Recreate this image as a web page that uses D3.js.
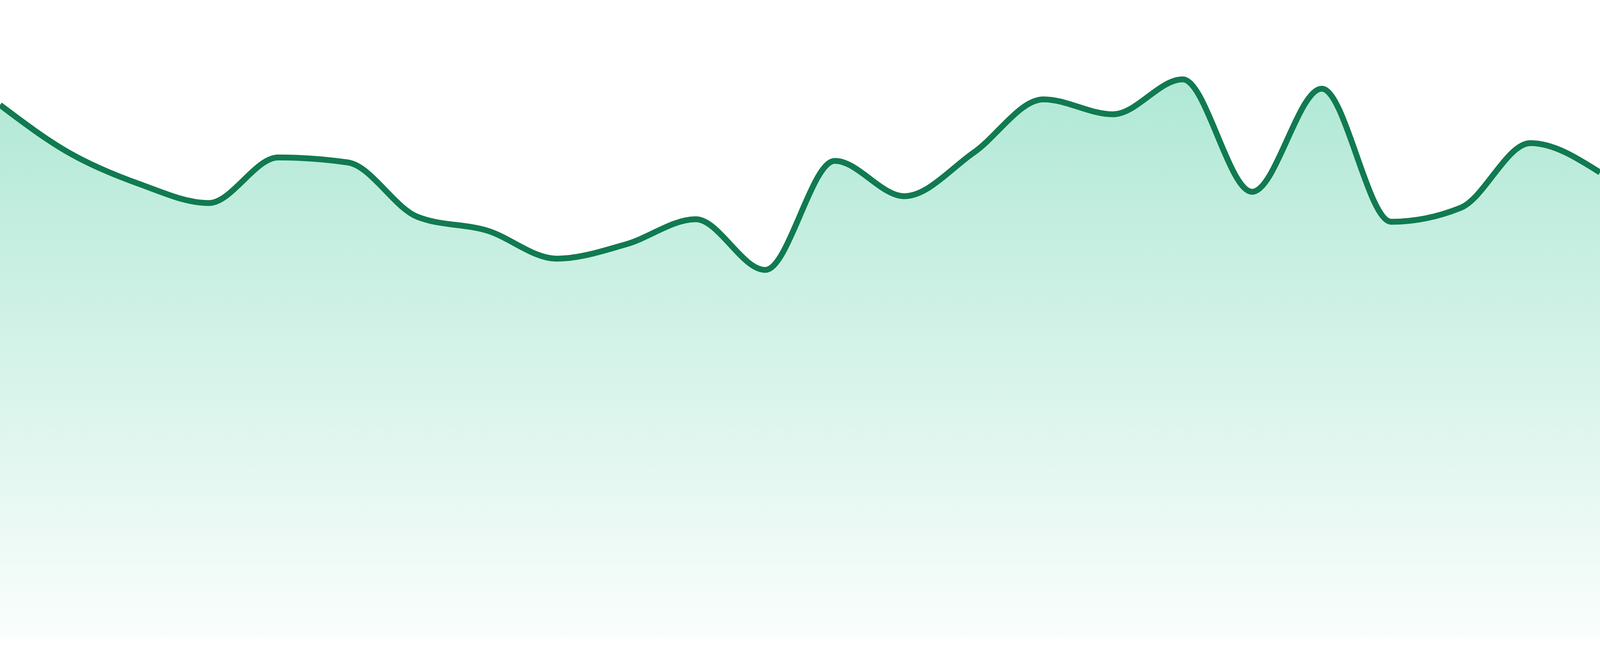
<!DOCTYPE html>
<html>
<head>
<meta charset="utf-8">
<script src="https://cdn.jsdelivr.net/npm/d3@7/dist/d3.min.js"></script>
<style>
  html, body { margin: 0; padding: 0; background: #ffffff; overflow: hidden; width: 100%; height: 100%; }
  svg { display: block; }
</style>
</head>
<body>
<svg id="chart"></svg>
<script>
// Data (24 evenly spaced samples)
const points = d3.range(24);
const values = [85.2, 77.5, 72.56, 69.5, 76.8, 76.0, 67.3, 65.1, 60.6, 62.9, 66.9, 58.8,
                76.25, 70.6, 77.6, 86.1, 83.7, 89.3, 71.3, 87.8, 66.5, 68.75, 79.1, 74.4];
const yDomain = [0, 100];

// Fit to the actual viewport (the browser may clamp the window width)
const W = Math.min(window.innerWidth || 4800, 4800);
const H = window.innerHeight || 1680;
const baseline = H - 48;

const svg = d3.select("#chart").attr("width", W).attr("height", H);

const x = d3.scaleLinear().domain([0, points.length - 1]).range([0, W]);
const y = d3.scaleLinear().domain(yDomain).range([baseline, baseline - 1600]);

const data = points.map((p, i) => ({ p, v: values[i] }));

const defs = svg.append("defs");
const grad = defs.append("linearGradient")
  .attr("id", "fillGrad")
  .attr("gradientUnits", "userSpaceOnUse")
  .attr("x1", 0).attr("x2", 0)
  .attr("y1", y(d3.max(values))).attr("y2", baseline);
grad.append("stop").attr("offset", "0%").attr("stop-color", "#10b981").attr("stop-opacity", 0.33);
grad.append("stop").attr("offset", "100%").attr("stop-color", "#10b981").attr("stop-opacity", 0.02);

const area = d3.area()
  .x(d => x(d.p))
  .y0(baseline)
  .y1(d => y(d.v))
  .curve(d3.curveMonotoneX);

const line = d3.line()
  .x(d => x(d.p))
  .y(d => y(d.v))
  .curve(d3.curveMonotoneX);

svg.append("path")
  .datum(data)
  .attr("d", area)
  .attr("fill", "url(#fillGrad)");

svg.append("path")
  .datum(data)
  .attr("d", line)
  .attr("fill", "none")
  .attr("stroke", "#117a51")
  .attr("stroke-width", 15)
  .attr("stroke-linejoin", "round");
</script>
</body>
</html>
